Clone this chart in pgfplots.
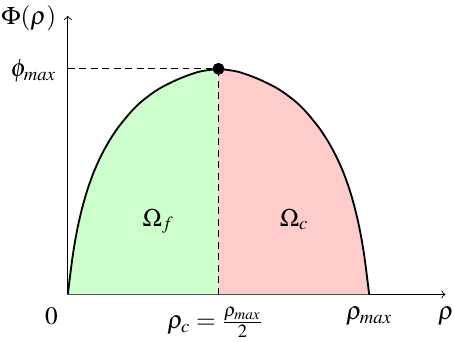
\documentclass[border=0pt]{standalone}
\usepackage{mathptmx}
\usepackage{pgfplots}
\pgfplotsset{compat=1.18}

% left half of the curve (rho_max = 1, phi_max = 1)
\pgfplotstableread{
rho    phi
0.000  0.000
0.005  0.055
0.0105 0.114
0.0165 0.173
0.0255 0.247
0.0365 0.321
0.050  0.395
0.066  0.468
0.086  0.542
0.108  0.608
0.135  0.675
0.167  0.740
0.212  0.813
0.248  0.859
0.302  0.911
0.368  0.955
0.435  0.987
0.500  1.000
}\leftbranch
\pgfplotstableread{
rho    phi
0.500  1.000
0.565  0.987
0.632  0.955
0.698  0.911
0.752  0.859
0.788  0.813
0.833  0.740
0.865  0.675
0.892  0.608
0.914  0.542
0.934  0.468
0.950  0.395
0.9635 0.321
0.9745 0.247
0.9835 0.173
0.9895 0.114
0.995  0.055
1.000  0.000
}\rightbranch

\begin{document}
\begin{tikzpicture}[font=\fontsize{11}{13}\selectfont]
\begin{axis}[
  scale only axis,
  width=164.5pt, height=121.4pt,
  xmin=0, xmax=1.253, ymin=0, ymax=1.235,
  axis lines=left,
  axis line style={thin, -to},
  xtick=\empty, ytick=\empty,
  clip=false,
]
\addplot[fill=green!20, draw=none, smooth] table[x=rho,y=phi] {\leftbranch} \closedcycle;
\addplot[fill=red!20, draw=none, smooth] table[x=rho,y=phi] {\rightbranch} \closedcycle;
\addplot[thin, dash pattern=on 3pt off 2pt] coordinates {(0,1) (0.5,1)};
\addplot[thin, dash pattern=on 3pt off 2pt] coordinates {(0.5,0) (0.5,1)};
\addplot[thick, smooth] table[x=rho,y=phi] {\leftbranch};
\addplot[thick, smooth] table[x=rho,y=phi] {\rightbranch};
\addplot[only marks, mark=*, mark size=2.4pt] coordinates {(0.5,1)};

\node[anchor=base east, inner sep=0] at (axis cs:-0.037,1.198) {$\Phi(\rho)$};
\node[anchor=base east, inner sep=0] at (axis cs:-0.037,0.967) {$\phi_{max}$};
\node[anchor=north east, inner sep=0] at (axis cs:-0.032,-0.055) {$0$};
\node[anchor=north, inner sep=0] at (axis cs:0.49,-0.055) {$\rho_c=\frac{\rho_{max}}{2}$};
\node[anchor=north, inner sep=0] at (axis cs:1.0,-0.055) {$\rho_{max}$};
\node[anchor=north west, inner sep=0] at (axis cs:1.227,-0.055) {$\rho$};
\node[anchor=base west, inner sep=0] at (axis cs:0.247,0.303) {$\Omega_f$};
\node[anchor=base west, inner sep=0] at (axis cs:0.702,0.303) {$\Omega_c$};
\path (axis cs:-0.225,-0.21) (axis cs:1.278,1.305);
\end{axis}
\end{tikzpicture}
\end{document}
